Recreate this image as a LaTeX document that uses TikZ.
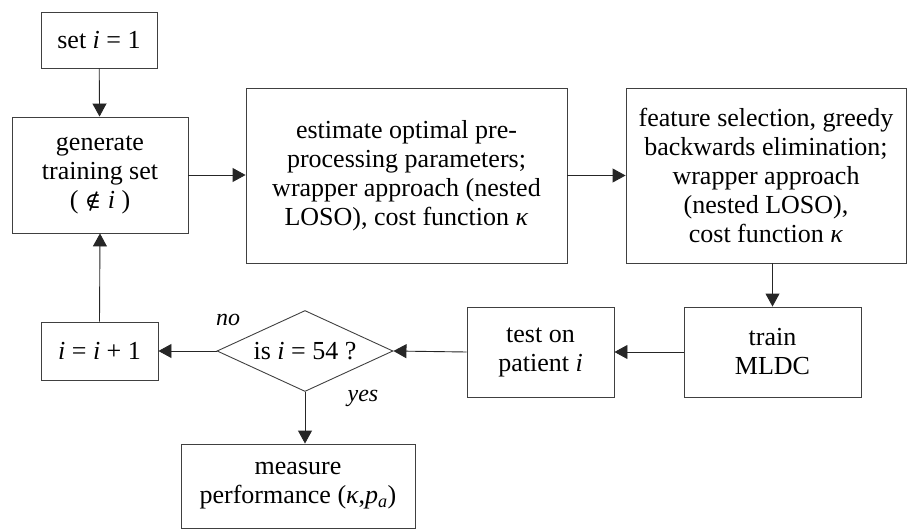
\documentclass[tikz,border=0pt]{standalone}
\usepackage{fontspec}
\setmainfont{Liberation Serif}
\newfontfamily\tnr{Liberation Serif}
\newfontfamily\dvserif{DejaVu Serif}
\usetikzlibrary{shapes.geometric,arrows.meta}
\begin{document}
\begin{tikzpicture}[x=1pt,y=-1pt,
  every node/.style={font=\tnr\fontsize{26}{29}\selectfont, text=black},
  box/.style={draw=black!75, line width=0.9pt, align=center, inner sep=0pt},
  decision/.style={draw=black!75, line width=0.9pt, shape=diamond, aspect=2.17, inner sep=0pt, minimum width=176pt, minimum height=81pt},
  conn/.style={draw=black!85, line width=0.9pt, -{Triangle[length=13pt,width=14pt]}},
  lbl/.style={font=\tnr\fontsize{24}{28}\selectfont\itshape}]
\useasboundingbox (0,0) rectangle (907,529);
\node[box, minimum width=116pt, minimum height=56pt] (set) at (99,40) {set \textit{i} = 1};
\node[box, minimum width=176pt, minimum height=116pt] (gen) at (100,175) {generate\\training set\\( {\dvserif\fontsize{22}{29}\selectfont ∉} \textit{i} )};
\node[box, minimum width=321pt, minimum height=175pt] (est) at (406.5,175.5) {estimate optimal pre-\\processing parameters;\\wrapper approach (nested\\LOSO), cost function \textit{κ}};
\node[box, minimum width=280pt, minimum height=175pt] (feat) at (766,175.5) {feature selection, greedy\\backwards elimination;\\wrapper approach\\(nested LOSO),\\cost function \textit{κ}};
\node[box, minimum width=177pt, minimum height=90pt] (train) at (772.5,352) {train\\MLDC};
\node[box, minimum width=147pt, minimum height=90pt] (test) at (540.5,352) {test on\\patient \textit{i}};
\node[decision] (dia) at (305,351) {is \textit{i} = 54 ?};
\node[box, minimum width=117pt, minimum height=58pt] (iinc) at (99.5,351) {\textit{i} = \textit{i} + 1};
\node[box, minimum width=234pt, minimum height=84pt] (meas) at (298,486) {measure\\performance (\textit{κ},\textit{p}\textsubscript{\textit{a}})};
\node[lbl] (no) at (228,320) {no};
\node[lbl] (yes) at (363,398) {yes};
\draw[conn] (set) -- (gen);
\draw[conn] (gen.east) -- (est.west |- gen.east);
\draw[conn] (est.east) -- (feat.west);
\draw[conn] (train.north |- feat.south) -- (train.north);
\draw[conn] (train.west) -- (test.east);
\draw[conn] (test.west) -- (dia.east);
\draw[conn] (dia.west) -- (iinc.east);
\draw[conn] (iinc.north) -- (gen.south);
\draw[conn] (dia.south) -- (dia.south |- meas.north);
\end{tikzpicture}
\end{document}
